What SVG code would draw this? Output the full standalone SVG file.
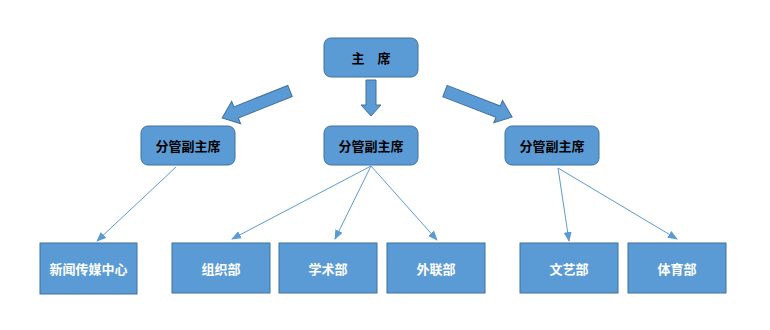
<svg xmlns="http://www.w3.org/2000/svg" width="770" height="330" viewBox="0 0 770 330">
<defs>
<marker id="ah" markerWidth="10" markerHeight="8" refX="9" refY="4" orient="auto" markerUnits="userSpaceOnUse">
<path d="M0,0 L10,4 L0,8 Z" fill="#5b9bd5"/>
</marker>
<style>
.box{fill:#5b9bd5;stroke:#41719c;stroke-width:1}
.big{fill:#5b9bd5;stroke:#41719c;stroke-width:1}
.ln{stroke:#5b9bd5;stroke-width:1;fill:none;marker-end:url(#ah)}
.tb{font-family:"Liberation Sans","Noto Sans CJK SC",sans-serif;font-size:13px;font-weight:bold;fill:#000;text-anchor:middle;dominant-baseline:central}
.tw{font-family:"Liberation Sans","Noto Sans CJK SC",sans-serif;font-size:13px;font-weight:bold;fill:#fff;text-anchor:middle;dominant-baseline:central}
</style>
</defs>
<rect width="770" height="330" fill="#fff"/>
<g id="connectors">
<polygon class="big" points="0,-6 58,-6 58,-12 73,0 58,12 58,6 0,6" transform="translate(290,91) rotate(158.3)"/>
<polygon class="big" points="366,80 376,80 376,105 381,105 371,116 361,105 366,105"/>
<polygon class="big" points="0,-6 57,-6 57,-12 72,0 57,12 57,6 0,6" transform="translate(445,91) rotate(21.2)"/>
<line class="ln" x1="176" y1="167" x2="97" y2="241"/>
<line class="ln" x1="371" y1="166" x2="232" y2="239"/>
<line class="ln" x1="371" y1="166" x2="335" y2="239"/>
<line class="ln" x1="371" y1="166" x2="437" y2="240"/>
<line class="ln" x1="558" y1="168" x2="569" y2="241"/>
<line class="ln" x1="558" y1="168" x2="677" y2="239"/>
</g>
<g id="chair"><rect class="box" x="324" y="38" width="94" height="39" rx="7"/><text class="tb" x="371" y="58">主　席</text></g>
<g id="vice1"><rect class="box" x="141" y="126" width="94" height="39" rx="7"/><text class="tb" x="188" y="146">分管副主席</text></g>
<g id="vice2"><rect class="box" x="324" y="126" width="94" height="39" rx="7"/><text class="tb" x="371" y="146">分管副主席</text></g>
<g id="vice3"><rect class="box" x="505" y="126" width="94" height="39" rx="7"/><text class="tb" x="552" y="146">分管副主席</text></g>
<g id="media"><rect class="box" x="40" y="243" width="97" height="51"/><text class="tw" x="88.5" y="269">新闻传媒中心</text></g>
<g id="org"><rect class="box" x="172" y="243" width="98" height="50"/><text class="tw" x="221" y="269">组织部</text></g>
<g id="academic"><rect class="box" x="279" y="243" width="98" height="50"/><text class="tw" x="328" y="269">学术部</text></g>
<g id="liaison"><rect class="box" x="387" y="243" width="98" height="50"/><text class="tw" x="436" y="269">外联部</text></g>
<g id="arts"><rect class="box" x="520" y="243" width="98" height="50"/><text class="tw" x="569" y="269">文艺部</text></g>
<g id="sports"><rect class="box" x="628" y="243" width="98" height="50"/><text class="tw" x="677" y="269">体育部</text></g>
</svg>
